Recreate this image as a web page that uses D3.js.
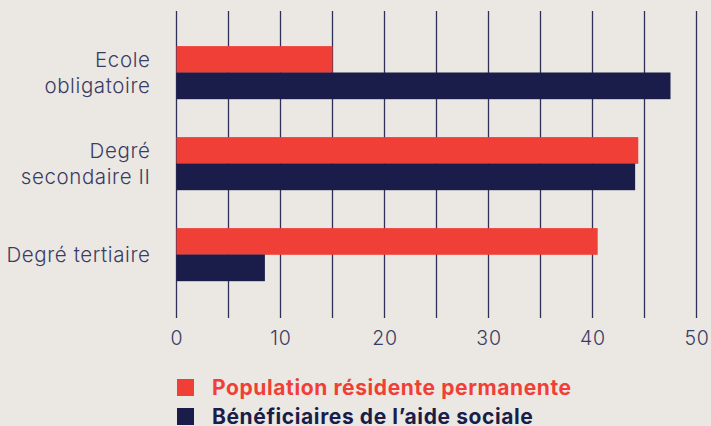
<!DOCTYPE html>
<html>
<head>
<meta charset="utf-8">
<script src="https://cdn.jsdelivr.net/npm/d3@7"></script>
<style>
  html, body { margin: 0; padding: 0; background: #ebe8e3; }
  svg { display: block; }
  text { font-family: Inter, "Noto Sans", sans-serif; }
</style>
</head>
<body>
<svg id="chart" width="711" height="426"></svg>
<script>
// categories (each label split on lines)
var categories = ["Ecole obligatoire", "Degré secondaire II", "Degré tertiaire"];
var categoryLines = [["Ecole", "obligatoire"], ["Degré", "secondaire II"], ["Degré tertiaire"]];

// series
var seriesNames = ["Population résidente permanente", "Bénéficiaires de l’aide sociale"];
var population = [15.0, 44.4, 40.5];
var aideSociale = [47.5, 44.1, 8.5];

// ticks
var gridTicks = [0, 5, 10, 15, 20, 25, 30, 35, 40, 45, 50];
var labelTicks = [0, 10, 20, 30, 40, 50];

var colors = ["#f03f37", "#1a1d4a"];
var textColor = "#3a3c63";

var svg = d3.select("#chart");

var x = d3.scaleLinear().domain([0, 50]).range([176.5, 696.5]);
var y = d3.scaleBand().domain(categories).range([27, 300]).paddingInner(0.42).paddingOuter(0.21);
var ySub = d3.scaleBand().domain([0, 1]).range([0, y.bandwidth()]);

// vertical grid lines
svg.append("g")
  .selectAll("line")
  .data(gridTicks)
  .enter()
  .append("line")
  .attr("x1", function(d) { return x(d); })
  .attr("x2", function(d) { return x(d); })
  .attr("y1", 11)
  .attr("y2", 318)
  .attr("stroke", "#2e3058")
  .attr("stroke-width", 1.3);

// bars
var groups = svg.append("g")
  .selectAll("g")
  .data(categories)
  .enter()
  .append("g")
  .attr("transform", function(d) { return "translate(0," + y(d) + ")"; });

groups.selectAll("rect")
  .data(function(d, i) { return [population[i], aideSociale[i]]; })
  .enter()
  .append("rect")
  .attr("x", x(0))
  .attr("y", function(d, j) { return ySub(j); })
  .attr("width", function(d) { return x(d) - x(0); })
  .attr("height", ySub.bandwidth() + 0.3)
  .attr("fill", function(d, j) { return colors[j]; });

// category labels
var labels = svg.append("g")
  .selectAll("text")
  .data(categories)
  .enter()
  .append("text")
  .attr("text-anchor", "end")
  .attr("fill", textColor)
  .attr("font-size", 20.5)
  .attr("font-weight", 300)
  .attr("letter-spacing", 0.6);

labels.each(function(d, i) {
  var lines = categoryLines[i];
  var mid = y(d) + y.bandwidth() / 2;
  var lh = 26.5;
  var first = mid - (lines.length - 1) * lh / 2 + 7.5;
  d3.select(this).selectAll("tspan")
    .data(lines)
    .enter()
    .append("tspan")
    .attr("x", 150.5)
    .attr("y", function(l, k) { return first + k * lh; })
    .text(function(l) { return l; });
});

// x axis labels
var xAxis = d3.axisBottom(x).tickValues(labelTicks).tickSize(0).tickPadding(0);
var axisG = svg.append("g")
  .attr("transform", "translate(0,331)")
  .call(xAxis);
axisG.select(".domain").remove();
axisG.selectAll("text")
  .attr("fill", textColor)
  .attr("font-size", 19.5)
  .attr("font-weight", 300)
  .attr("letter-spacing", 0.8)
  .attr("dy", "0.7em")
  .style("font-family", "Inter, 'Noto Sans', sans-serif");

// legend
var legend = svg.append("g")
  .selectAll("g")
  .data(seriesNames)
  .enter()
  .append("g")
  .attr("transform", function(d, i) { return "translate(177," + (379 + i * 29) + ")"; });

legend.append("rect")
  .attr("width", 17)
  .attr("height", 17)
  .attr("fill", function(d, i) { return colors[i]; });

legend.append("text")
  .attr("x", 35)
  .attr("y", 16)
  .attr("font-size", 21)
  .attr("font-weight", 700)
  .attr("letter-spacing", 0.6)
  .attr("fill", function(d, i) { return colors[i]; })
  .text(function(d) { return d; });
</script>
</body>
</html>
